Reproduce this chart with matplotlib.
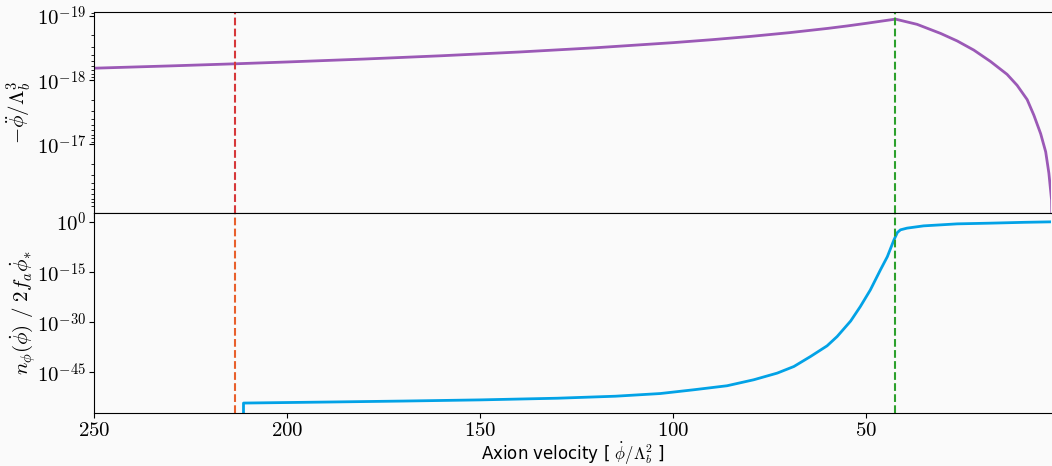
import numpy as np
import matplotlib
matplotlib.use('Agg')
import matplotlib.pyplot as plt
from matplotlib.ticker import FuncFormatter, NullFormatter, FixedLocator

# Top panel: -phi_ddot / Lambda_b^3 vs axion velocity
vel_top = [250, 230, 213.4, 200, 180, 160, 140, 120, 100, 90, 80, 70, 60, 55, 50, 46, 42.5,
           36.9, 30.8, 26.5, 22.2, 17.9, 13.6, 11.0, 8.4, 6.66, 4.9, 3.6, 2.77, 2.07, 1.9]
accel = [6.5e-19, 5.98e-19, 5.55e-19, 5.2e-19, 4.68e-19, 4.16e-19, 3.64e-19, 3.12e-19,
         2.6e-19, 2.34e-19, 2.08e-19, 1.82e-19, 1.56e-19, 1.43e-19, 1.3e-19, 1.2e-19, 1.12e-19,
         1.35e-19, 1.87e-19, 2.45e-19, 3.4e-19, 5.1e-19, 8.1e-19, 1.2e-18, 2.0e-18,
         3.5e-18, 6.8e-18, 1.3e-17, 2.8e-17, 7.4e-17, 3e-16]

# Bottom panel: n_phi / 2 f_a phi_dot_*  (log10 values)
vel_bot = [211.35, 211.3, 190, 170, 150, 130, 115, 103.4, 94.7, 86.1, 79.2, 73.1, 68.8,
           64.5, 60.2, 57.6, 54.1, 51.6, 49.0, 46.4, 44.6, 42.9, 42.0, 41.2, 39.5,
           35.2, 30.8, 26.5, 17.9, 9.2, 2.0]
log_n = [-80, -54.15, -53.85, -53.55, -53.2, -52.7, -52.1, -51.3, -50.17, -48.97, -47.18,
         -45.18, -43.21, -40.22, -37.02, -34.24, -29.6, -25.28, -20.29, -14.31, -10.34,
         -5.35, -3.1, -2.3, -1.79, -1.11, -0.81, -0.51, -0.3, -0.05, 0.1]
occupation = [10.0 ** v for v in log_n]

v_red = 213.4
v_green = 42.5

top_ticks = [1e-19, 1e-18, 1e-17]
bot_ticks = [1e0, 1e-15, 1e-30, 1e-45]
x_ticks = [250, 200, 150, 100, 50]

plt.rcParams['mathtext.fontset'] = 'cm'
plt.rcParams['font.family'] = 'DejaVu Serif'

bg = '#fafafa'
fig, (ax1, ax2) = plt.subplots(2, 1, sharex=True, figsize=(10.52, 4.66), dpi=100,
                               facecolor=bg)
fig.subplots_adjust(left=0.0894, right=0.9995, top=0.974, bottom=0.1137, hspace=0)

exp_fmt = FuncFormatter(lambda v, p: r'$10^{%d}$' % int(round(np.log10(v))))

# Top panel
ax1.set_facecolor(bg)
ax1.plot(vel_top, accel, color='#9b59b6', linewidth=2)
ax1.axvline(v_red, color='#d6383a', linestyle='--', linewidth=1.5)
ax1.axvline(v_green, color='#2ca02c', linestyle='--', linewidth=1.5)
ax1.set_yscale('log')
ax1.set_ylim(10 ** -15.94, 10 ** -19.06)
ax1.yaxis.set_major_locator(FixedLocator(top_ticks))
ax1.yaxis.set_major_formatter(exp_fmt)
ax1.yaxis.set_minor_formatter(NullFormatter())
ax1.set_ylabel(r'$-\ddot{\phi}/\Lambda_b^3$', fontsize=15)
ax1.yaxis.set_label_coords(-0.064, 0.5)

# Bottom panel
ax2.set_facecolor(bg)
ax2.plot(vel_bot, occupation, color='#02a2e6', linewidth=2)
ax2.axvline(v_red, color='#e8602c', linestyle='--', linewidth=1.5)
ax2.axvline(v_green, color='#2ca02c', linestyle='--', linewidth=1.5)
ax2.set_yscale('log')
ax2.set_ylim(10 ** -57.13, 10 ** 2.87)
ax2.yaxis.set_major_locator(FixedLocator(bot_ticks))
ax2.yaxis.set_major_formatter(exp_fmt)
ax2.yaxis.set_minor_locator(FixedLocator([]))
ax2.set_ylabel(r'$n_\phi(\dot{\phi})\ /\ 2f_a\dot{\phi}_{*}$', fontsize=15)
ax2.yaxis.set_label_coords(-0.059, 0.5)

ax2.set_xlim(250, 2.1)
ax2.set_xticks(x_ticks)
ax2.xaxis.set_major_formatter(FuncFormatter(lambda v, p: r'$%d$' % v))
ax2.set_xlabel(r'Axion velocity [ $\dot{\phi}/\Lambda_b^2$ ]', fontsize=12,
               family='DejaVu Sans', labelpad=1)

for ax in (ax1, ax2):
    ax.spines['right'].set_visible(False)
    ax.tick_params(axis='both', which='major', labelsize=15, length=3.5, width=0.8, pad=2)
    ax.tick_params(axis='both', which='minor', length=2, width=0.6)

plt.savefig('out.png', dpi=100, facecolor=bg)
